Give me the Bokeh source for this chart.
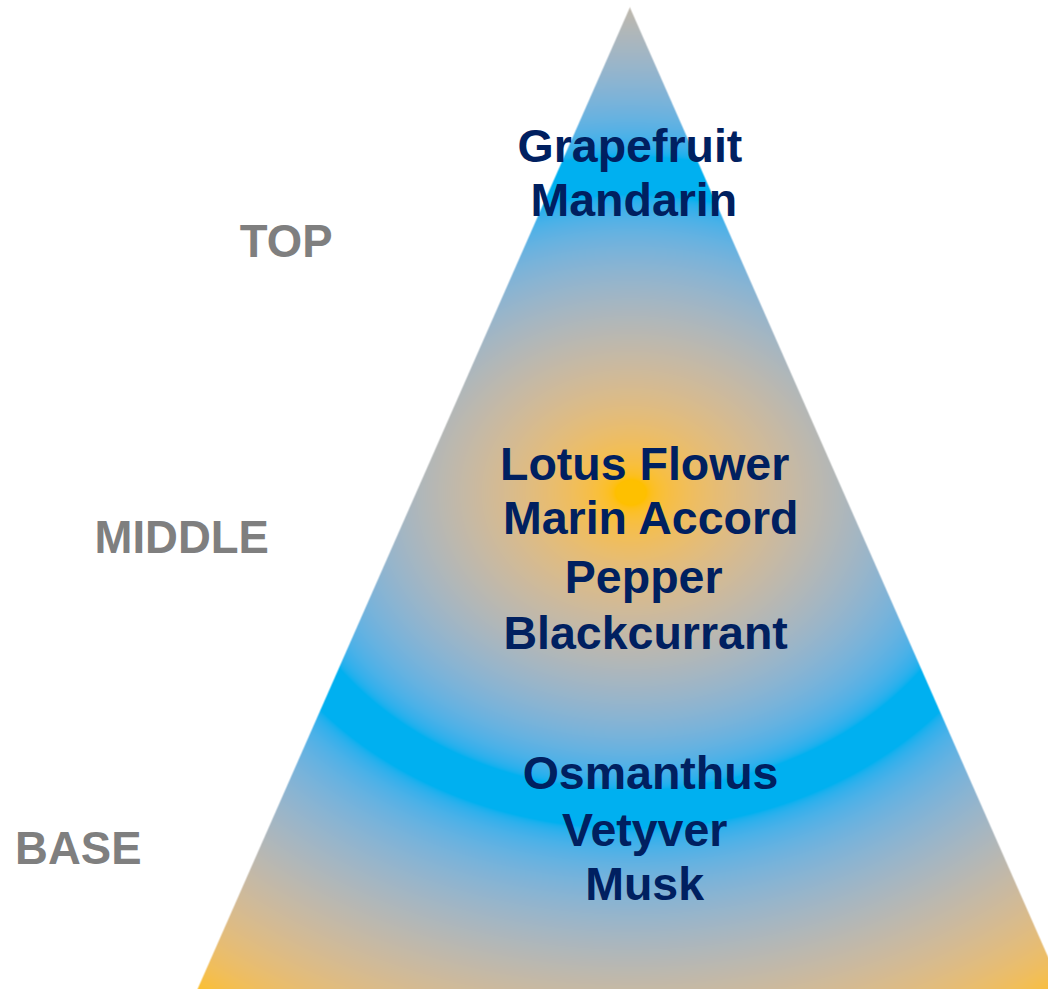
import numpy as np
from bokeh.plotting import figure
from bokeh.models import Range1d, ColumnDataSource
from bokeh.core.properties import value
from bokeh.embed import file_html
from bokeh.resources import INLINE

# ---------------- data ----------------
top_notes = ["Grapefruit", "Mandarin"]
middle_notes = ["Lotus Flower", "Marin Accord", "Pepper", "Blackcurrant"]
base_notes = ["Osmanthus", "Vetyver", "Musk"]
tier_labels = ["TOP", "MIDDLE", "BASE"]

# ---------------- layout (design units = reference pixels, y measured from top) ----------------
REF_W, REF_H = 1064, 1005
W, H = 1048, 989           # figure size in screen pixels (fits the window with 8px margin)

note_x = [[639, 643], [654, 661, 653, 655], [660, 654, 654]]
note_base = [[165, 220], [488, 543, 603, 660], [802, 860, 915]]
label_x = [290, 184, 79]
label_base = [262, 563, 879]
BASELINE_FIX = 17.0        # compensates the renderer's baseline offset

apex = (639.0, 7.0)
half_slope = 0.44          # horizontal run per vertical unit on each side

grad_center = (640.0, 500.0)
grad_rx, grad_ry = 390.0, 322.0
YELLOW = np.array([255, 192, 0], dtype=float)
BLUE = np.array([0, 176, 240], dtype=float)

NAVY = "#002060"
GRAY = "#7F7F7F"


def to_up(y):
    return REF_H - y


# ---------------- figure ----------------
p = figure(width=W, height=H, output_backend="svg", toolbar_location=None,
           x_range=Range1d(0, REF_W), y_range=Range1d(0, REF_H),
           min_border=0)
p.axis.visible = False
p.xgrid.visible = False
p.ygrid.visible = False
p.outline_line_color = None
p.background_fill_color = "white"
p.border_fill_color = "white"

# ---------------- gradient pyramid as an RGBA image ----------------
sx = REF_W / W
sy = REF_H / H
xs = (np.arange(W) + 0.5) * sx
ys_up = (np.arange(H) + 0.5) * sy
X, YU = np.meshgrid(xs, ys_up)
Y = REF_H - YU  # design y from top

dx = (X - grad_center[0]) / grad_rx
dy = (Y - grad_center[1]) / grad_ry
r = np.sqrt(dx * dx + dy * dy)
u = np.abs(1.0 - r)
f = np.clip((u - 0.06) / 0.9, 0.0, 1.0)
t = 1.0 - f   # blue fraction


def srgb_to_lin(c):
    c = c / 255.0
    return np.where(c <= 0.04045, c / 12.92, ((c + 0.055) / 1.055) ** 2.4)


def lin_to_srgb(c):
    c = np.where(c <= 0.0031308, c * 12.92, 1.055 * np.power(np.clip(c, 0, None), 1 / 2.4) - 0.055)
    return np.clip(c * 255.0, 0, 255)


yl = srgb_to_lin(YELLOW)
bl = srgb_to_lin(BLUE)
lin = yl[None, None, :] * (1 - t[..., None]) + bl[None, None, :] * t[..., None]
rgb = lin_to_srgb(lin)

norm = np.sqrt(1 + half_slope ** 2)
d_left = (X - (apex[0] - half_slope * (Y - apex[1]))) / norm
d_right = ((apex[0] + half_slope * (Y - apex[1])) - X) / norm
d_top = Y - apex[1]
alpha = np.clip(np.minimum(np.minimum(d_left, d_right), d_top) / sx + 0.5, 0, 1)

img = np.zeros((H, W), dtype=np.uint32)
view = img.view(dtype=np.uint8).reshape((H, W, 4))
view[..., 0] = rgb[..., 0].astype(np.uint8)
view[..., 1] = rgb[..., 1].astype(np.uint8)
view[..., 2] = rgb[..., 2].astype(np.uint8)
view[..., 3] = (alpha * 255).astype(np.uint8)

p.image_rgba(image=[img], x=0, y=0, dw=REF_W, dh=REF_H)

# ---------------- notes ----------------
nx, ny, nt = [], [], []
for names, xs_, bs_ in zip([top_notes, middle_notes, base_notes], note_x, note_base):
    for name, x_, b_ in zip(names, xs_, bs_):
        nx.append(x_)
        ny.append(to_up(b_ - BASELINE_FIX))
        nt.append(name)
notes_src = ColumnDataSource(dict(x=nx, y=ny, text=nt))
p.text(x="x", y="y", text="text", source=notes_src,
       text_font=value("Liberation Sans"), text_font_style="bold",
       text_font_size="46.5px", text_color=NAVY,
       text_align="center", text_baseline="alphabetic")

labels_src = ColumnDataSource(dict(x=label_x,
                                   y=[to_up(b - BASELINE_FIX) for b in label_base],
                                   text=tier_labels))
p.text(x="x", y="y", text="text", source=labels_src,
       text_font=value("Liberation Sans"), text_font_style="bold",
       text_font_size="45.5px", text_color=GRAY,
       text_align="center", text_baseline="alphabetic")

open("out.html", "w").write(file_html(p, INLINE))
